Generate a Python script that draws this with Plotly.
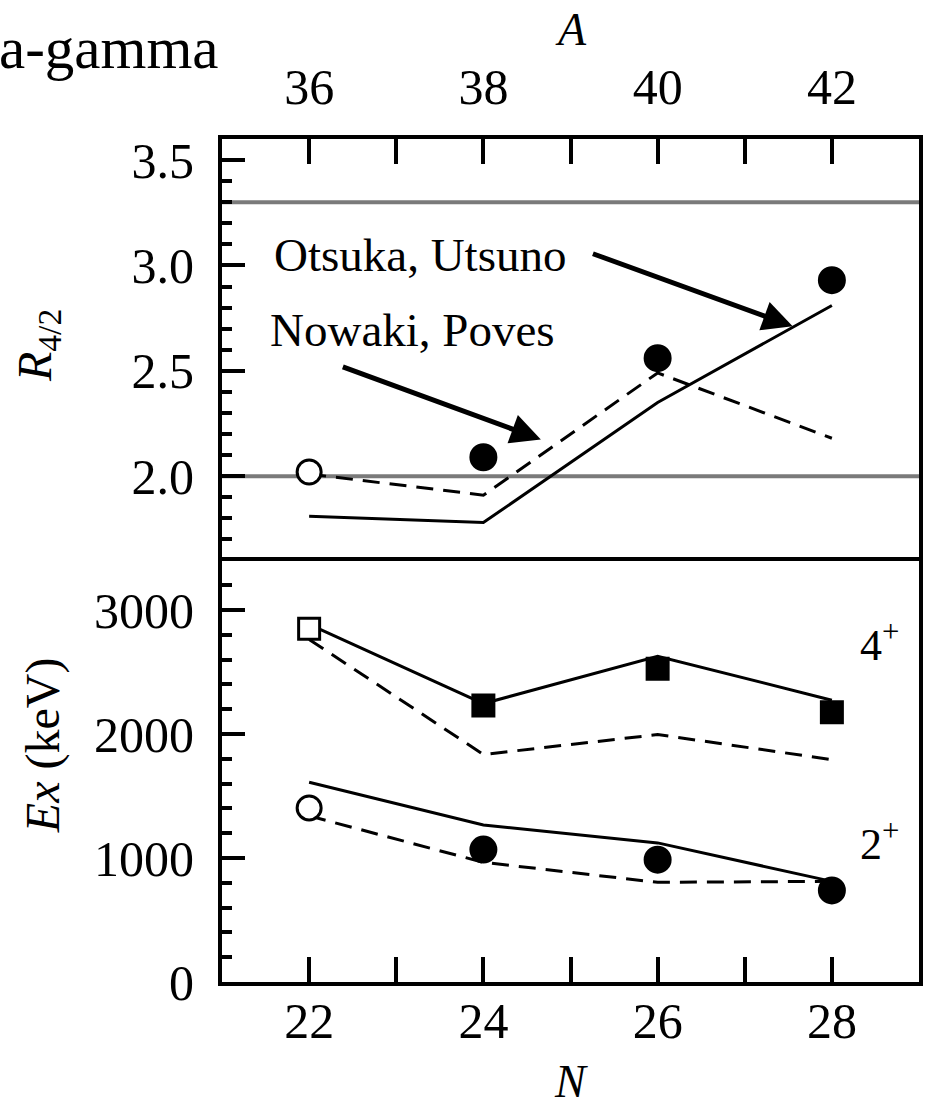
import plotly.graph_objects as go

# ---------------- data ----------------
N = [22, 24, 26, 28]
A_labels = ["36", "38", "40", "42"]

# R(4/2) panel
r42_open_N = [22]
r42_open = [2.02]
r42_exp_N = [24, 26, 28]
r42_exp = [2.09, 2.56, 2.93]
r42_otsuka = [1.81, 1.78, 2.35, 2.81]     # solid line
r42_nowacki = [2.01, 1.91, 2.49, 2.18]    # dashed line
r42_limits = [2.0, 3.3]                   # grey reference lines

# Ex panel (keV)
e4_open_N = [22]
e4_open = [2850]
e4_exp_N = [24, 26, 28]
e4_exp = [2230, 2526, 2176]
e4_otsuka = [2884, 2246, 2628, 2273]
e4_nowacki = [2763, 1835, 1996, 1794]

e2_open_N = [22]
e2_open = [1404]
e2_exp_N = [24, 26, 28]
e2_exp = [1068, 987, 739]
e2_otsuka = [1611, 1267, 1122, 812]
e2_nowacki = [1340, 965, 804, 812]

# ---------------- style ----------------
FONT = "Liberation Serif"
TICKF = dict(family=FONT, size=50, color="black")
LW = 3
DASH = "17px,10px"

fig = go.Figure()

def line(x, y, dash, xa, ya):
    fig.add_trace(go.Scatter(x=x, y=y, mode="lines", xaxis=xa, yaxis=ya,
                             line=dict(color="black", width=LW,
                                       dash=dash if dash else "solid"),
                             showlegend=False, hoverinfo="skip"))

def marks(x, y, symbol, size, filled, xa, ya):
    fig.add_trace(go.Scatter(x=x, y=y, mode="markers", xaxis=xa, yaxis=ya,
                             marker=dict(symbol=symbol, size=size,
                                         color="black" if filled else "white",
                                         line=dict(color="black", width=3)),
                             showlegend=False))

# upper panel
line(N, r42_otsuka, None, "x2", "y2")
line(N, r42_nowacki, DASH, "x2", "y2")
marks(r42_open_N, r42_open, "circle", 24, False, "x2", "y2")
marks(r42_exp_N, r42_exp, "circle", 25, True, "x2", "y2")

# lower panel
line(N, e4_otsuka, None, "x", "y")
line(N, e4_nowacki, DASH, "x", "y")
line(N, e2_otsuka, None, "x", "y")
line(N, e2_nowacki, DASH, "x", "y")
marks(e4_open_N, e4_open, "square", 21, False, "x", "y")
marks(e4_exp_N, e4_exp, "square", 21, True, "x", "y")
marks(e2_open_N, e2_open, "circle", 24, False, "x", "y")
marks(e2_exp_N, e2_exp, "circle", 25, True, "x", "y")

# grey reference lines
for v in r42_limits:
    fig.add_shape(type="line", xref="x2 domain", yref="y2", x0=0, x1=1,
                  y0=v, y1=v, line=dict(color="#7a7a7a", width=4), layer="below")

axis_common = dict(showline=True, linecolor="black", linewidth=4,
                   ticks="inside", tickwidth=4, tickcolor="black",
                   showgrid=False, zeroline=False, tickfont=TICKF)

fig.update_layout(
    width=930, height=1110,
    margin=dict(l=222, r=7, t=139, b=128),
    paper_bgcolor="white", plot_bgcolor="white",
    showlegend=False,
    xaxis=dict(domain=[0, 1], anchor="y", range=[21, 29], mirror=True,
               tick0=22, dtick=2, ticklen=25, ticklabelstandoff=-8,
               minor=dict(ticks="inside", tick0=21, dtick=1, ticklen=25,
                          tickwidth=4, tickcolor="black"),
               **axis_common),
    yaxis=dict(domain=[0, 0.5], anchor="x", range=[0, 3400], mirror=True,
               tick0=0, dtick=1000, ticklen=23, ticklabelstandoff=14,
               minor=dict(ticks="inside", dtick=200, ticklen=10,
                          tickwidth=4, tickcolor="black"),
               **axis_common),
    xaxis2=dict(domain=[0, 1], anchor="y2", side="top", range=[21, 29],
                mirror=False,
                tickmode="array", tickvals=N, ticktext=A_labels,
                ticklen=25, ticklabelstandoff=11,
                minor=dict(ticks="inside", tickmode="linear", tick0=21, dtick=1,
                           ticklen=25, tickwidth=4, tickcolor="black"),
                **axis_common),
    yaxis2=dict(domain=[0.5, 1], anchor="x2", range=[1.6, 3.6], mirror=True,
                tick0=0, dtick=0.5, tickformat=".1f", ticklen=23,
                ticklabelstandoff=14,
                minor=dict(ticks="inside", dtick=0.1, ticklen=10,
                           tickwidth=4, tickcolor="black"),
                **axis_common),
)

def ann(text, x, y, size, xref="paper", yref="paper", **kw):
    fig.add_annotation(text=text, x=x, y=y, xref=xref, yref=yref,
                       showarrow=False, font=dict(family=FONT, size=size, color="black"),
                       **kw)

# titles and labels
ann("a-gamma", -0.3224, 1.108, 59, xanchor="left", yanchor="middle")
ann("<i>A</i>", 0.5, 1.163, 46, xanchor="center", yanchor="top")
ann("<i>N</i>", 0.5, -0.1512, 46, xanchor="center", yanchor="bottom")
ann("<i>R</i><sub>4/2</sub>", -0.264, 0.7556, 48, textangle=-90,
    xanchor="center", yanchor="middle")
ann("<i>Ex</i> (keV)", -0.2568, 0.281, 48, textangle=-90,
    xanchor="center", yanchor="middle")

ann("Otsuka, Utsuno", 23.27, 3.05, 47, xref="x2", yref="y2")
ann("Nowaki, Poves", 23.19, 2.695, 47, xref="x2", yref="y2")
ann("4<sup>+</sup>", 28.55, 2740, 44, xref="x", yref="y")
ann("2<sup>+</sup>", 28.55, 1130, 44, xref="x", yref="y")

# arrows
for head, tail in [((27.55, 2.711), (25.24, 3.058)),
                   ((24.66, 2.174), (22.37, 2.521))]:
    fig.add_annotation(x=head[0], y=head[1], ax=tail[0], ay=tail[1],
                       xref="x2", yref="y2", axref="x2", ayref="y2",
                       text="", showarrow=True, arrowhead=2, arrowsize=1.2,
                       arrowwidth=5, arrowcolor="black")

fig.write_html("out.html")
